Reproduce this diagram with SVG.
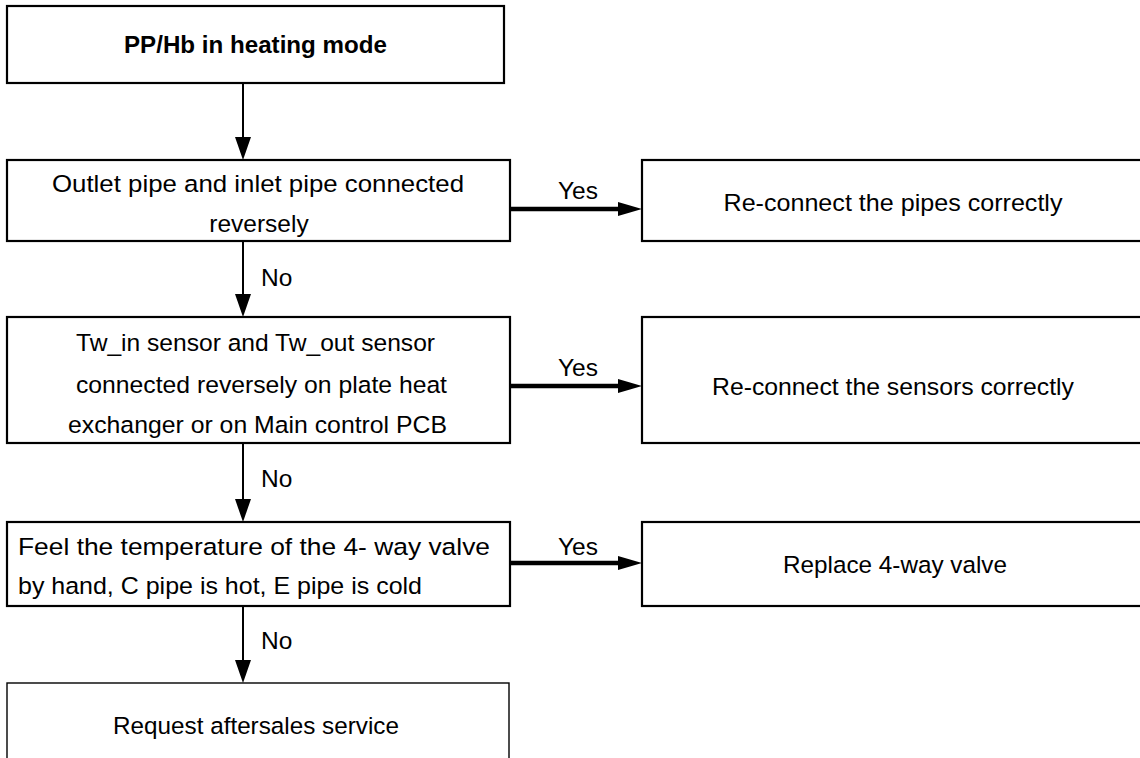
<svg xmlns="http://www.w3.org/2000/svg" width="1140" height="758" viewBox="0 0 1140 758">
<style>
.box{fill:#fff;stroke:#000;stroke-width:2.2}
.thin{fill:#fff;stroke:#000;stroke-width:1.4}
.t{font-family:"Liberation Sans",Arial,sans-serif;font-size:24.5px;fill:#000}
.b{font-weight:bold;font-size:24px}
.m{text-anchor:middle}
.v{stroke:#000;stroke-width:2;fill:none}
.h{stroke:#000;stroke-width:4.5;fill:none}
</style>
<defs>
<marker id="av" markerUnits="userSpaceOnUse" markerWidth="23" markerHeight="16" viewBox="0 0 23 16" refX="12" refY="8" orient="auto"><path d="M0,0 L23,8 L0,16 z" fill="#000"/></marker>
<marker id="ah" markerUnits="userSpaceOnUse" markerWidth="24" markerHeight="14" viewBox="0 0 24 14" refX="14" refY="7" orient="auto"><path d="M0,0 L24,7 L0,14 z" fill="#000"/></marker>
</defs>
<rect width="1140" height="758" fill="#fff"/>
<g id="connectors">
<line class="v" x1="243" y1="83" x2="243" y2="149" marker-end="url(#av)"/>
<line class="v" x1="243" y1="241" x2="243" y2="306" marker-end="url(#av)"/>
<line class="v" x1="243" y1="443" x2="243" y2="511" marker-end="url(#av)"/>
<line class="v" x1="243" y1="606" x2="243" y2="672" marker-end="url(#av)"/>
<line class="h" x1="510" y1="209" x2="632" y2="209" marker-end="url(#ah)"/>
<line class="h" x1="510" y1="386" x2="632" y2="386" marker-end="url(#ah)"/>
<line class="h" x1="510" y1="563" x2="632" y2="563" marker-end="url(#ah)"/>
<text class="t m" x="578" y="199">Yes</text>
<text class="t m" x="578" y="376">Yes</text>
<text class="t m" x="578" y="555">Yes</text>
<text class="t" x="261" y="286">No</text>
<text class="t" x="261" y="487">No</text>
<text class="t" x="261" y="649">No</text>
</g>
<g id="start">
<rect class="box" x="7" y="6" width="497" height="77"/>
<text class="t b m" x="255.5" y="53" textLength="263" lengthAdjust="spacingAndGlyphs">PP/Hb in heating mode</text>
</g>
<g id="q1">
<rect class="box" x="7" y="160" width="503" height="81"/>
<text class="t m" x="258" y="192" textLength="412" lengthAdjust="spacingAndGlyphs">Outlet pipe and inlet pipe connected</text>
<text class="t m" x="259" y="232">reversely</text>
</g>
<g id="a1">
<rect class="box" x="642" y="160" width="510" height="81"/>
<text class="t m" x="893" y="211" textLength="339" lengthAdjust="spacingAndGlyphs">Re-connect the pipes correctly</text>
</g>
<g id="q2">
<rect class="box" x="7" y="317" width="503" height="126"/>
<text class="t m" x="255.5" y="351" textLength="359" lengthAdjust="spacingAndGlyphs">Tw_in sensor and Tw_out sensor</text>
<text class="t m" x="261.5" y="393" textLength="371" lengthAdjust="spacingAndGlyphs">connected reversely on plate heat</text>
<text class="t m" x="257.5" y="433" textLength="379" lengthAdjust="spacingAndGlyphs">exchanger or on Main control PCB</text>
</g>
<g id="a2">
<rect class="box" x="642" y="317" width="510" height="126"/>
<text class="t m" x="893" y="395" textLength="362" lengthAdjust="spacingAndGlyphs">Re-connect the sensors correctly</text>
</g>
<g id="q3">
<rect class="box" x="7" y="522" width="503" height="84"/>
<text class="t" x="18" y="555" textLength="472" lengthAdjust="spacingAndGlyphs">Feel the temperature of the 4- way valve</text>
<text class="t" x="18" y="594" textLength="404" lengthAdjust="spacingAndGlyphs">by hand, C pipe is hot, E pipe is cold</text>
</g>
<g id="a3">
<rect class="box" x="642" y="522" width="510" height="84"/>
<text class="t m" x="895" y="573" textLength="224" lengthAdjust="spacingAndGlyphs">Replace 4-way valve</text>
</g>
<g id="end">
<rect class="thin" x="7" y="683" width="502" height="100"/>
<text class="t m" x="256" y="734" textLength="286" lengthAdjust="spacingAndGlyphs">Request aftersales service</text>
</g>
</svg>
